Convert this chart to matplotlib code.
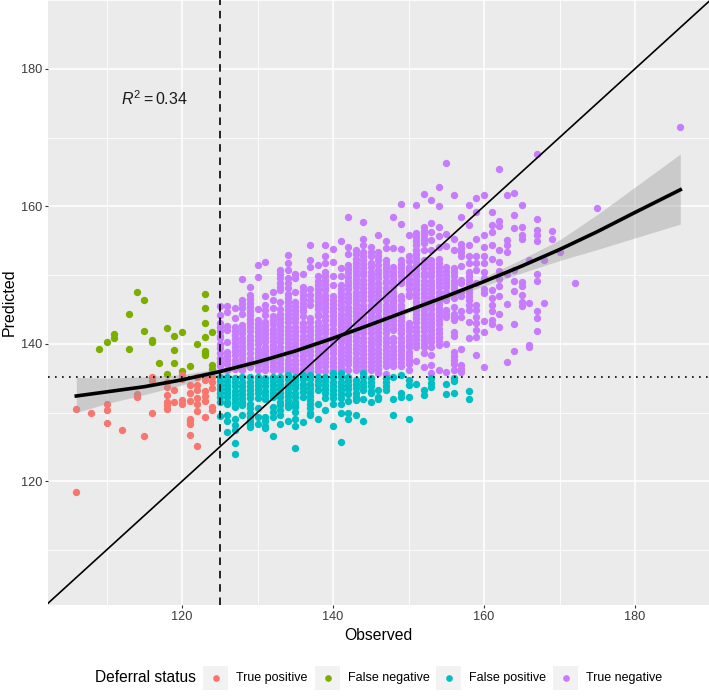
import matplotlib

matplotlib.use("Agg")
import matplotlib.pyplot as plt
from matplotlib.lines import Line2D
from matplotlib.patches import Rectangle

plt.rcParams["font.family"] = ["Liberation Sans", "DejaVu Sans"]
plt.rcParams["mathtext.fontset"] = "custom"
plt.rcParams["mathtext.rm"] = "Liberation Sans"
plt.rcParams["mathtext.it"] = "Liberation Sans:italic"

# true positives / false negatives
tp_obs = [106, 106, 108, 110, 110, 110, 112, 114, 114, 115, 116, 116, 116,
          118, 118, 118, 118, 118, 118, 119, 119, 120, 120, 120, 120,
          121, 121, 121, 121, 121, 121, 121, 122, 122, 122, 122, 122, 122, 122,
          123, 123, 123, 123, 123, 123, 124, 124, 124, 124, 124]
tp_pred = [118.5, 130.5, 129.9, 131.2, 130.4, 128.5, 127.5, 132.7, 132.3, 126.6, 135.2, 134.6, 130.0,
           134.5, 133.7, 132.5, 131.6, 131.1, 130.5, 133.3, 131.6, 135.4, 134.8, 131.8, 131.2,
           134.0, 132.8, 131.7, 129.0, 128.7, 128.3, 126.7, 135.2, 134.0, 133.3, 132.1, 131.2, 130.2, 125.2,
           135.3, 134.7, 133.2, 132.4, 131.7, 129.3, 135.2, 134.5, 133.5, 130.8, 130.3]

fn_obs = [109, 110, 111, 111, 113, 113, 114, 115, 115, 116, 116, 117, 118, 118,
          119, 119, 119, 120, 120, 121, 122, 123, 123, 123, 123, 123, 123, 123,
          124, 124, 124]
fn_pred = [139.3, 140.2, 141.4, 140.9, 144.3, 139.3, 147.6, 146.3, 141.9, 140.5, 140.2, 137.2, 142.3, 135.6,
           141.2, 139.1, 137.2, 141.7, 136.0, 136.8, 140.0, 147.2, 145.2, 143.0, 141.0, 139.0, 138.6, 138.3,
           141.7, 136.9, 136.4]

# false positives, one list per observed value
fp_125 = [135.2, 134.6, 134.0, 133.4, 132.8, 132.2, 131.6, 129.5]
fp_126 = [135.2, 134.6, 134.0, 133.4, 132.8, 132.2, 131.6, 131.2, 129.6, 128.8, 127.1]
fp_127 = [135.0, 134.4, 133.8, 133.2, 132.6, 132.0, 131.4, 130.8, 129.1, 128.2, 127.4, 125.6, 124.0]
fp_128 = [135.1, 134.5, 133.9, 133.3, 132.7, 132.1, 131.5, 131.1, 129.6]
fp_129 = [135.1, 134.5, 133.9, 133.3, 132.7, 132.1, 131.3, 130.6, 130.0, 129.4, 128.8, 128.3, 127.9]
fp_130 = [135.2, 134.6, 134.0, 133.4, 132.8, 132.1, 130.6, 129.4, 128.4]
fp_131 = [135.0, 134.4, 133.8, 133.2, 132.6, 132.0, 129.4, 128.7, 128.1, 127.7]
fp_132 = [135.2, 134.6, 134.0, 133.4, 132.8, 132.3, 130.8, 130.1, 129.4, 126.6]
fp_133 = [135.2, 134.6, 134.0, 133.4, 132.8, 132.2, 131.6, 131.1, 130.3, 129.6, 128.3]
fp_134 = [135.4, 134.8, 134.2, 133.6, 133.0, 132.4, 131.8, 131.2, 130.8, 128.7]
fp_135 = [135.2, 134.6, 134.0, 133.5, 132.8, 132.2, 131.6, 131.2, 130.8, 130.1, 129.1, 128.0, 124.8]
fp_136 = [135.4, 134.8, 134.2, 133.6, 133.0, 132.3, 128.6]
fp_137 = [135.4, 134.8, 134.2, 133.6, 133.0, 132.4, 131.8, 131.2, 130.6, 130.0, 129.6]
fp_138 = [135.2, 134.6, 134.0, 133.3, 131.2, 129.0]
fp_139 = [135.2, 134.6, 134.0, 133.4, 132.8, 132.1, 130.4]
fp_140 = [135.7, 135.1, 134.5, 133.9, 133.3, 132.7, 132.1, 131.3, 128.1]
fp_141 = [135.7, 135.1, 134.5, 133.9, 133.3, 132.7, 132.1, 131.3, 129.9, 125.7]
fp_142 = [135.2, 134.6, 134.0, 133.4, 132.7, 131.7, 129.9, 129.1]
fp_143 = [134.7, 134.1, 133.5, 132.9, 132.3, 131.8, 129.7]
fp_144 = [135.7, 135.1, 134.5, 133.9, 133.3, 132.0, 128.8]
fp_145 = [135.0, 134.4, 133.8, 133.2, 132.8, 131.6]
fp_146 = [133.3, 132.3, 132.0]
fp_147 = [135.0, 134.4, 133.8, 133.3]
fp_148 = [135.2, 132.0, 129.7]
fp_149 = [135.4, 132.9, 132.2]
fp_150 = [134.7, 134.0, 132.3, 129.0]
fp_151 = [134.2]
fp_152 = [133.3, 132.5]
fp_153 = [135.0, 134.3, 133.7]
fp_155 = [134.2, 132.7]
fp_156 = [135.0, 134.6, 132.8]
fp_158 = [133.2, 131.9]
fp_obs = [125, 126, 127, 128, 129, 130, 131, 132, 133, 134, 135, 136, 137, 138, 139, 140, 141,
          142, 143, 144, 145, 146, 147, 148, 149, 150, 151, 152, 153, 155, 156, 158]
fp_cols = [fp_125, fp_126, fp_127, fp_128, fp_129, fp_130, fp_131, fp_132, fp_133, fp_134, fp_135,
           fp_136, fp_137, fp_138, fp_139, fp_140, fp_141, fp_142, fp_143, fp_144, fp_145, fp_146,
           fp_147, fp_148, fp_149, fp_150, fp_151, fp_152, fp_153, fp_155, fp_156, fp_158]

# true negatives, one list per observed value
tn_125 = [145.5, 144.2, 143.0, 142.4, 141.8, 141.2, 140.8, 140.0, 139.4, 138.6, 137.9, 137.3, 136.7]
tn_126 = [145.5, 144.6, 142.6, 142.0, 140.3, 138.8, 138.2, 137.6, 137.1, 136.2]
tn_127 = [145.2, 143.7, 142.5, 141.9, 141.3, 140.7, 140.1, 139.5, 138.9, 138.3, 137.7, 137.1, 136.4]
tn_128 = [149.4, 146.4, 145.8, 145.2, 144.4, 142.7, 142.1, 141.5, 140.9, 140.3, 139.7, 139.1, 138.5, 137.9, 137.3, 136.7, 136.2]
tn_129 = [148.3, 147.1, 146.5, 145.9, 145.3, 144.7, 144.2, 143.6, 143.0, 142.4, 141.8, 141.2, 140.6, 140.0, 139.4, 138.6,
          137.9, 137.3, 136.6]
tn_130 = [151.5, 149.7, 145.1, 143.5, 142.9, 142.3, 141.7, 141.1, 140.5, 139.9, 139.3, 138.7, 138.1, 137.5, 136.9, 136.2]
tn_131 = [151.9, 146.9, 145.6, 144.9, 144.2, 143.2, 142.6, 142.0, 141.4, 140.8, 140.2, 139.6, 139.0, 138.4, 137.8, 137.2,
          136.6, 136.2]
tn_132 = [147.6, 146.4, 145.2, 144.0, 143.4, 142.8, 142.2, 141.6, 141.0, 140.4, 139.8, 139.2, 138.6, 138.0, 137.4, 136.8, 136.2]
tn_133 = [150.7, 150.1, 149.5, 148.9, 148.3, 147.8, 146.1, 145.0, 144.4, 143.8, 143.2, 142.6, 142.0, 141.4, 140.8, 140.2,
          139.6, 139.0, 138.4, 137.8, 137.2, 136.6, 136.2]
tn_134 = [152.9, 151.8, 150.7, 149.5, 148.8, 148.1, 147.3, 146.7, 146.1, 145.5, 144.9, 144.3, 143.7, 143.1, 142.5, 141.9,
          141.3, 140.7, 140.1, 139.5, 138.9, 138.3, 137.7, 137.1, 136.5, 136.0]
tn_135 = [150.2, 149.5, 147.6, 146.1, 145.5, 144.9, 144.3, 143.7, 143.1, 142.5, 141.9, 141.3, 140.7, 140.1, 139.5, 138.9,
          138.3, 137.7, 137.1, 136.5, 136.0]
tn_136 = [150.2, 148.3, 147.7, 147.1, 146.5, 145.9, 145.3, 144.7, 144.0, 143.0, 142.4, 141.8, 141.2, 140.6, 140.0, 139.4,
          138.8, 138.2, 137.6, 137.0, 136.4, 136.0]
tn_137 = [154.4, 152.2, 151.2, 147.9, 147.1, 146.4, 145.6, 143.7, 143.1, 142.5, 141.9, 141.3, 140.7, 140.1, 139.5, 138.9,
          138.3, 137.7, 137.1, 136.5, 136.0]
tn_138 = [151.5, 149.8, 149.2, 148.6, 148.0, 147.4, 146.8, 146.2, 145.6, 145.0, 144.4, 144.0, 143.2, 142.6, 142.0, 141.4,
          140.8, 140.2, 139.6, 139.0, 138.4, 137.8, 137.2, 136.6, 136.0]
tn_139 = [154.3, 152.7, 151.7, 150.5, 149.9, 149.3, 148.7, 148.1, 147.8, 147.1, 146.5, 145.9, 145.3, 144.7, 144.1, 143.5,
          142.7, 142.1, 141.5, 140.9, 140.3, 139.7, 139.1, 138.5, 137.9, 137.3, 136.7, 136.0]
tn_140 = [153.8, 151.9, 149.8, 148.6, 147.0, 146.4, 145.8, 145.2, 144.6, 144.0, 143.4, 142.8, 142.2, 141.6, 141.0, 140.4,
          139.8, 139.2, 138.6, 138.0, 137.4, 136.8, 136.2]
tn_141 = [155.0, 151.0, 149.8, 148.6, 148.0, 147.4, 146.8, 146.2, 145.6, 145.0, 144.4, 143.8, 143.2, 142.6, 142.0, 141.4,
          140.8, 140.2, 139.6, 139.0, 138.4, 137.8, 137.2, 136.6, 136.2]
tn_142 = [158.5, 154.1, 153.0, 151.5, 150.9, 150.3, 149.7, 149.1, 148.5, 147.9, 147.3, 146.7, 146.1, 145.4, 144.8, 144.2,
          143.6, 143.0, 142.4, 141.8, 141.2, 140.6, 140.0, 139.4, 138.8, 138.2, 137.6, 137.0, 136.2]
tn_143 = [153.6, 153.0, 152.4, 151.8, 151.2, 150.6, 150.0, 149.4, 148.8, 148.2, 147.6, 147.0, 146.4, 145.8, 145.2, 144.6,
          144.0, 143.4, 142.8, 142.2, 141.6, 141.0, 140.4, 139.8, 139.2, 138.6, 138.0, 137.4, 136.8, 136.2]
tn_144 = [157.7, 155.3, 154.4, 153.4, 152.8, 152.2, 151.6, 151.0, 150.4, 150.0, 149.3, 148.7, 148.1, 147.5, 146.9, 146.3,
          145.7, 145.1, 144.5, 143.9, 143.3, 142.7, 142.1, 141.5, 140.9, 140.3, 139.7, 139.1, 138.5, 137.9, 137.3, 136.7, 136.2]
tn_145 = [154.1, 153.4, 152.7, 151.7, 151.1, 150.5, 149.9, 149.3, 148.7, 148.1, 147.5, 146.9, 146.3, 145.7, 145.1, 144.5,
          143.9, 143.3, 142.7, 142.1, 141.5, 140.9, 140.3, 139.7, 139.1, 138.5, 137.9, 137.3, 136.7, 136.2]
tn_146 = [155.8, 153.4, 152.8, 152.2, 151.5, 150.7, 150.1, 149.5, 148.9, 148.3, 147.7, 147.1, 146.5, 145.9, 145.3, 144.7,
          144.1, 143.5, 142.9, 142.3, 141.7, 141.1, 140.5, 139.9, 139.3, 138.7, 138.1, 137.5, 136.9, 136.3, 135.7]
tn_147 = [154.9, 153.9, 152.2, 151.6, 151.0, 150.4, 149.8, 149.2, 148.8, 148.1, 147.5, 146.9, 146.3, 145.7, 145.1, 144.5,
          143.9, 143.3, 142.7, 142.1, 141.5, 140.9, 140.3, 139.7, 139.1, 138.5, 137.9, 137.3, 136.7, 135.6]
tn_148 = [158.4, 154.0, 151.2, 150.6, 150.0, 149.4, 148.8, 148.2, 147.6, 147.0, 146.4, 145.9, 145.3, 144.7, 144.1, 143.5,
          142.9, 142.3, 142.0, 140.8, 140.2, 139.6, 139.0, 138.4, 137.8, 137.2, 136.7]
tn_149 = [160.3, 157.4, 153.8, 152.2, 151.6, 151.0, 150.4, 149.8, 149.2, 148.8, 146.9, 146.3, 145.7, 145.1, 144.5, 143.9,
          143.3, 142.7, 142.1, 141.5, 140.9, 140.3, 139.7, 139.1, 138.5, 137.9, 137.3, 136.7]
tn_150 = [155.8, 152.7, 152.0, 151.2, 150.7, 150.1, 149.4, 148.8, 148.5, 147.9, 147.3, 146.9, 143.0, 142.4, 141.8, 141.2,
          140.6, 140.0, 139.6, 138.8, 138.2, 137.6, 137.0, 136.2]
tn_151 = [160.2, 156.1, 155.5, 154.9, 154.3, 153.7, 153.1, 152.5, 151.9, 151.3, 150.7, 150.1, 149.8, 149.3, 148.7, 148.1,
          147.8, 147.3, 146.7, 146.1, 145.5, 144.9, 144.3, 143.7, 143.1, 142.5, 141.9, 141.3, 140.7, 140.1, 139.6, 137.5]
tn_152 = [161.8, 157.0, 156.4, 155.8, 155.2, 154.6, 153.6, 152.2, 151.6, 151.0, 150.3, 149.8, 149.2, 148.6, 148.0, 147.4,
          146.8, 146.2, 145.9, 145.4, 144.8, 144.2, 143.6, 143.0, 142.4, 141.8, 141.2, 140.6, 140.0, 139.6, 138.6, 136.6]
tn_153 = [160.9, 157.5, 156.3, 155.1, 153.6, 152.2, 151.6, 151.0, 150.4, 149.8, 149.2, 148.6, 148.0, 147.4, 146.8, 146.2,
          145.6, 145.0, 144.4, 143.8, 143.2, 142.6, 142.0, 141.4, 140.8, 140.2, 139.6, 138.4, 136.9, 135.7]
tn_154 = [162.8, 160.0, 157.0, 155.7, 154.1, 152.4, 151.8, 151.2, 150.6, 150.0, 149.4, 148.8, 148.2, 147.6, 147.0, 146.4,
          145.8, 145.2, 144.6, 144.0, 143.4, 142.8, 142.2, 141.6, 141.0, 140.4, 139.8, 136.2]
tn_155 = [166.3, 156.0, 154.2, 151.2, 150.6, 150.0, 149.4, 148.8, 148.2, 147.6, 147.0, 146.4, 144.9, 144.4, 143.9, 139.9, 135.9]
tn_156 = [161.7, 155.3, 153.6, 151.0, 150.4, 149.8, 149.2, 148.6, 148.0, 147.4, 146.6, 145.4, 144.4, 143.9, 143.4, 141.7,
          141.2, 138.8, 138.2, 137.6, 137.0, 136.2]
tn_157 = [158.4, 154.5, 153.9, 153.3, 152.7, 151.3, 149.3, 148.8, 147.6, 147.0, 144.7, 143.9, 139.2, 136.9, 136.4, 135.9]
tn_158 = [160.2, 157.3, 154.4, 152.7, 151.7, 150.5, 149.9, 149.3, 148.7, 148.1, 147.5, 146.9, 146.3, 145.7, 144.9, 143.1, 140.9]
tn_159 = [161.2, 159.2, 155.3, 152.8, 151.8, 150.8, 148.9, 145.6, 144.9, 143.9, 143.0, 142.0, 141.0, 138.3]
tn_160 = [161.6, 155.8, 154.1, 152.7, 151.8, 150.4, 149.5, 148.0, 147.4, 143.3, 141.7, 136.6]
tn_161 = [159.1, 157.3, 156.2, 154.3, 152.3, 147.8, 146.6, 145.6, 144.8, 143.5, 142.8]
tn_162 = [165.4, 157.8, 157.2, 153.6, 151.9, 150.6, 149.4, 148.4, 147.0, 144.3, 142.4]
tn_163 = [161.7, 155.1, 154.4, 153.4, 150.2, 145.8, 137.4]
tn_164 = [162.0, 158.7, 156.8, 150.7, 149.1, 147.7, 142.9, 138.9]
tn_165 = [160.2, 157.0, 155.8, 155.2, 149.0, 148.4, 147.1, 146.1, 145.5]
tn_166 = [152.2, 145.9, 139.8, 139.5]
tn_167 = [167.6, 158.2, 156.5, 155.8, 155.0, 150.2, 149.1, 144.7, 143.8, 141.8]
tn_168 = [152.2, 145.9]
tn_169 = [156.4, 155.3]
tn_170 = [153.4]
tn_172 = [148.8]
tn_175 = [159.7]
tn_186 = [171.6]
tn_obs = [125, 126, 127, 128, 129, 130, 131, 132, 133, 134, 135, 136, 137, 138, 139, 140, 141, 142, 143, 144, 145,
          146, 147, 148, 149, 150, 151, 152, 153, 154, 155, 156, 157, 158, 159, 160, 161, 162, 163, 164, 165, 166,
          167, 168, 169, 170, 172, 175, 186]
tn_cols = [tn_125, tn_126, tn_127, tn_128, tn_129, tn_130, tn_131, tn_132, tn_133, tn_134, tn_135, tn_136, tn_137,
           tn_138, tn_139, tn_140, tn_141, tn_142, tn_143, tn_144, tn_145, tn_146, tn_147, tn_148, tn_149, tn_150,
           tn_151, tn_152, tn_153, tn_154, tn_155, tn_156, tn_157, tn_158, tn_159, tn_160, tn_161, tn_162, tn_163,
           tn_164, tn_165, tn_166, tn_167, tn_168, tn_169, tn_170, tn_172, tn_175, tn_186]

# smooth and its confidence band
smooth_x = [106, 110, 115, 120, 125, 130, 135, 140, 145, 150, 155, 160, 165, 170, 175, 180, 186]
smooth_y = [132.4, 133.0, 133.75, 134.75, 135.95, 137.35, 138.95, 140.8, 142.8, 144.85, 146.9, 149.05, 151.3, 153.7, 156.3, 159.1, 162.4]
band_low = [130.0, 131.3, 132.6, 134.0, 135.5, 136.9, 138.6, 140.5, 142.5, 144.5, 146.4, 148.4, 150.3, 152.1, 153.7, 155.4, 157.4]
band_high = [135.1, 135.0, 135.2, 135.5, 136.4, 137.7, 139.3, 141.2, 143.1, 145.2, 147.3, 149.7, 152.3, 155.1, 158.8, 162.8, 167.6]

xticks = [120, 140, 160, 180]
yticks = [120, 140, 160, 180]
xminor = [110, 130, 150, 170]
yminor = [110, 130, 150, 170, 190]
legend_labels = ["True positive", "False negative", "False positive", "True negative"]
legend_colors = ["#F8766D", "#7CAE00", "#00BFC4", "#C77CFF"]

W, H = 709, 698
fig = plt.figure(figsize=(W / 100, H / 100), dpi=100)
ax = fig.add_axes([48 / W, 1 - 605 / H, (W - 48) / W, 605 / H])
ax.set_facecolor("#EBEBEB")
ax.set_xlim(102.25, 189.8)
ax.set_ylim(102, 190)
for side in ax.spines.values():
    side.set_visible(False)

ax.set_xticks(xticks)
ax.set_yticks(yticks)
ax.set_xticks(xminor, minor=True)
ax.set_yticks(yminor, minor=True)
ax.grid(True, which="major", color="white", lw=1.1)
ax.grid(True, which="minor", color="white", lw=0.6)
ax.set_axisbelow(True)
ax.tick_params(which="major", length=2.4, width=0.8, color="#333333", labelcolor="#3A3A3A", labelsize=9.2, pad=2)
ax.tick_params(which="minor", length=0)
ax.set_xlabel("Observed", fontsize=11.3, color="black", labelpad=3.5)
ax.set_ylabel("Predicted", fontsize=11.5, color="black", labelpad=3)

tn_x = [obs for obs, col in zip(tn_obs, tn_cols) for _ in col]
tn_y = [v for col in tn_cols for v in col]
fp_x = [obs for obs, col in zip(fp_obs, fp_cols) for _ in col]
fp_y = [v for col in fp_cols for v in col]

ax.scatter(tn_x, tn_y, s=28, color=legend_colors[3], linewidths=0, zorder=2)
ax.scatter(fp_x, fp_y, s=28, color=legend_colors[2], linewidths=0, zorder=2)
ax.scatter(fn_obs, fn_pred, s=28, color=legend_colors[1], linewidths=0, zorder=2)
ax.scatter(tp_obs, tp_pred, s=28, color=legend_colors[0], linewidths=0, zorder=2)

ax.fill_between(smooth_x, band_low, band_high, color="#999999", alpha=0.4, linewidth=0, zorder=3)
ax.plot(smooth_x, smooth_y, color="black", lw=2.6, zorder=4)
ax.plot([100, 195], [100, 195], color="black", lw=1.2, zorder=4)
ax.axvline(125, color="black", lw=1.2, dashes=(4.5, 3.5), zorder=4)
ax.axhline(135.2, color="black", lw=1.2, dashes=(1, 3.2), zorder=4)
ax.text(116.3, 175.6, r"$\mathit{R}^{2}=0.34$", fontsize=11.5, color="#1A1A1A", ha="center", va="center")

# legend along the bottom, placed by hand in pixels
fig.text(95 / W, 1 - 677 / H, "Deferral status", fontsize=11.2, va="center", ha="left")
key_left = [203, 315, 436, 553]
for left, label, color in zip(key_left, legend_labels, legend_colors):
    fig.add_artist(Rectangle((left / W, 1 - 690 / H), 25 / W, 24 / H, transform=fig.transFigure,
                             facecolor="#F2F2F2", edgecolor="none"))
    fig.add_artist(Line2D([(left + 12.5) / W], [1 - 678 / H], transform=fig.transFigure, marker="o",
                          ms=4.8, color=color, mew=0, ls="none"))
    fig.text((left + 33) / W, 1 - 678 / H, label, fontsize=9, color="black", va="center", ha="left")

fig.savefig("out.png", dpi=100)
plt.close(fig)
